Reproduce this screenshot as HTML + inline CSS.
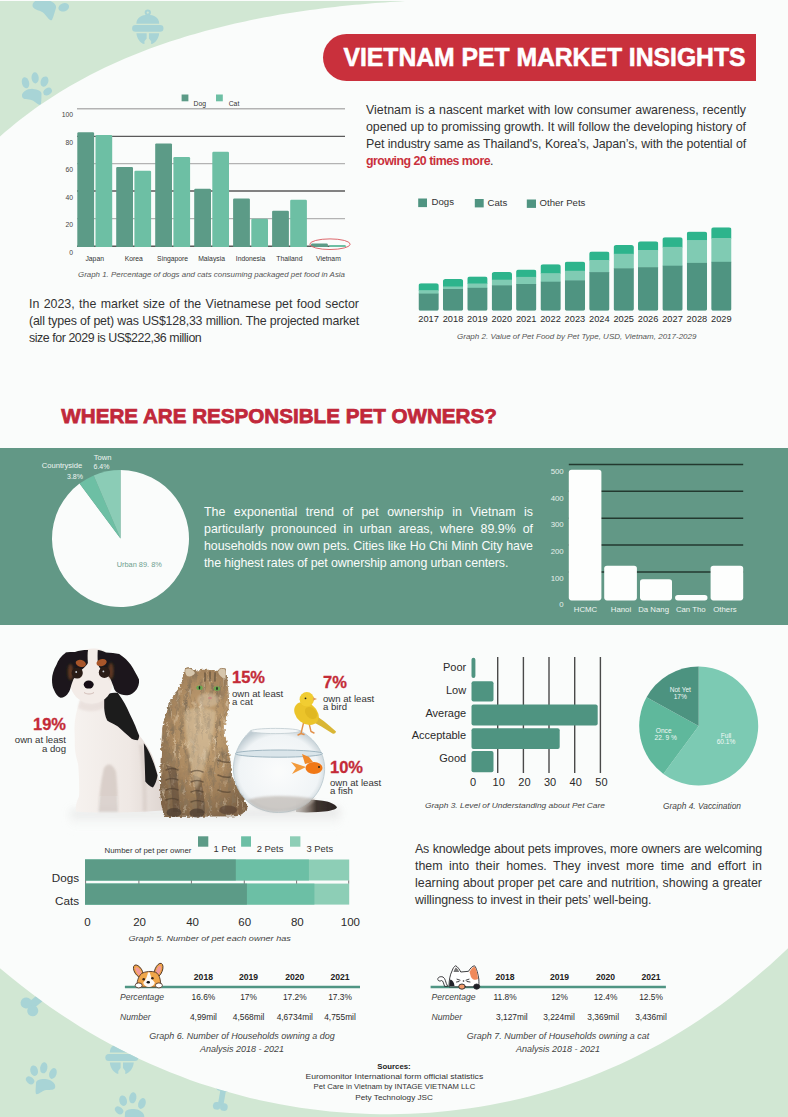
<!DOCTYPE html>
<html><head><meta charset="utf-8">
<style>
html,body{margin:0;padding:0;}
body{width:788px;height:1117px;position:relative;overflow:hidden;background:#fafcfb;font-family:"Liberation Sans",sans-serif;color:#333;}
.a{position:absolute;white-space:nowrap;}
svg.bg{position:absolute;left:0;top:0;}
.p{position:absolute;font-size:12.4px;line-height:17px;color:#3a3a3a;}
.p div{text-align:justify;text-align-last:justify;height:17px;white-space:nowrap;}
</style></head><body>
<svg class="bg" width="788" height="1117" viewBox="0 0 788 1117">
<defs>
<g id="paw">
  <ellipse cx="-8" cy="-6" rx="3.6" ry="5.6" transform="rotate(-10 -8 -6)"/>
  <ellipse cx="2" cy="-10" rx="3.6" ry="5.6"/>
  <ellipse cx="11" cy="-5.5" rx="3.8" ry="5.3" transform="rotate(25 11 -5.5)"/>
  <ellipse cx="13.3" cy="4.7" rx="3.4" ry="4.6" transform="rotate(60 13.3 4.7)"/>
  <path d="M-12.6,7.8 C-13.5,3 -6,0 -1.2,0.8 C3.5,1.5 7.5,3.5 7,6.5 C6.5,9.5 6.5,13 5.5,16.5 C4,19 0.5,14 -3,12 C-7,10.5 -12,11 -12.6,7.8Z"/>
 </g>
<g id="bell">
  <path fill-rule="evenodd" d="M0,-18.5 a3.3,3.3 0 1 1 0,6.6 a3.3,3.3 0 1 1 0,-6.6Z M0,-16.4 a1.2,1.2 0 1 0 0,2.4 a1.2,1.2 0 1 0 0,-2.4Z"/>
  <path d="M-12,-3.5 C-12,-10 -6.5,-13 0,-13 C6.5,-13 12,-10 12,-3.5Z"/>
  <rect x="-16.5" y="-2" width="33" height="7" rx="3.5"/>
  <path d="M-12,6.5 L-1.2,6.5 L-1.2,12 L-3.5,15 L-3.5,18 C-8,17 -11.5,12 -12,6.5Z"/>
  <path d="M12,6.5 L1.2,6.5 L1.2,12 L3.5,15 L3.5,18 C8,17 11.5,12 12,6.5Z"/>
 </g>
<g id="bone">
  <rect x="-11" y="-3.5" width="22" height="7"/>
  <circle cx="-12" cy="-4.5" r="4.8"/><circle cx="-12" cy="4.5" r="4.8"/>
  <circle cx="12" cy="-4.5" r="4.8"/><circle cx="12" cy="4.5" r="4.8"/>
 </g>
<clipPath id="cpTop"><path d="M-10.0,145.7 L-5.0,141.0 L0.0,136.5 L5.0,132.1 L10.0,127.9 L15.0,123.8 L20.0,119.8 L25.0,116.0 L30.0,112.2 L35.0,108.6 L40.0,105.1 L45.0,101.7 L50.0,98.4 L55.0,95.2 L60.0,92.0 L65.0,89.0 L70.0,86.1 L75.0,83.2 L80.0,80.4 L85.0,77.7 L90.0,75.1 L95.0,72.5 L100.0,70.0 L105.0,67.6 L110.0,65.3 L115.0,63.0 L120.0,60.8 L125.0,58.6 L130.0,56.5 L135.0,54.5 L140.0,52.5 L145.0,50.5 L150.0,48.6 L155.0,46.8 L160.0,45.0 L165.0,43.3 L170.0,41.6 L175.0,40.0 L180.0,38.4 L185.0,36.8 L190.0,35.3 L195.0,33.9 L200.0,32.4 L205.0,31.1 L210.0,29.7 L215.0,28.4 L220.0,27.2 L225.0,25.9 L230.0,24.7 L235.0,23.6 L240.0,22.5 L245.0,21.4 L250.0,20.3 L255.0,19.3 L260.0,18.3 L265.0,17.3 L270.0,16.4 L275.0,15.5 L280.0,14.6 L285.0,13.8 L290.0,13.0 L295.0,12.2 L300.0,11.5 L305.0,10.7 L310.0,10.0 L315.0,9.4 L320.0,8.7 L325.0,8.1 L330.0,7.5 L335.0,6.9 L340.0,6.3 L345.0,5.8 L350.0,5.3 L355.0,4.8 L360.0,4.4 L365.0,3.9 L370.0,3.5 L375.0,3.1 L380.0,2.7 L385.0,2.4 L390.0,2.0 L395.0,1.7 L400.0,1.4 L405.0,1.1 L410.0,0.9 L410.0,-10 L-10,-10Z"/></clipPath>
<clipPath id="cpBot"><path d="M-10.0,959.5 L0.0,968.2 L10.0,976.6 L20.0,984.6 L30.0,992.3 L40.0,999.8 L50.0,1006.9 L60.0,1013.8 L70.0,1020.3 L80.0,1026.7 L90.0,1032.7 L100.0,1038.5 L110.0,1044.0 L120.0,1049.3 L130.0,1054.3 L140.0,1059.2 L150.0,1063.7 L160.0,1068.1 L170.0,1072.2 L180.0,1076.1 L190.0,1079.9 L200.0,1083.4 L210.0,1086.6 L220.0,1089.7 L230.0,1092.6 L240.0,1095.3 L250.0,1097.9 L260.0,1100.2 L270.0,1102.3 L280.0,1104.3 L290.0,1106.1 L300.0,1107.7 L310.0,1109.1 L320.0,1110.3 L330.0,1111.4 L340.0,1112.3 L350.0,1113.0 L360.0,1113.6 L370.0,1114.0 L380.0,1114.2 L390.0,1114.2 L400.0,1114.1 L410.0,1113.8 L420.0,1113.3 L430.0,1112.7 L440.0,1111.8 L450.0,1110.8 L460.0,1109.6 L470.0,1108.3 L480.0,1106.7 L490.0,1105.0 L500.0,1103.1 L510.0,1101.0 L520.0,1098.7 L530.0,1096.2 L540.0,1093.5 L550.0,1090.6 L560.0,1087.4 L570.0,1084.1 L580.0,1080.6 L590.0,1076.8 L600.0,1072.8 L610.0,1068.6 L620.0,1064.2 L630.0,1059.5 L640.0,1054.5 L650.0,1049.3 L660.0,1043.9 L670.0,1038.2 L680.0,1032.2 L690.0,1025.9 L700.0,1019.4 L710.0,1012.5 L720.0,1005.4 L730.0,997.9 L740.0,990.1 L750.0,982.1 L760.0,973.6 L770.0,964.9 L780.0,955.8 L790.0,946.3 L800,1130 L-10,1130Z"/></clipPath>
</defs>
<rect x="0" y="0" width="788" height="1117" fill="#fafcfb"/>
<path fill="#d1e7d3" d="M-10.0,145.7 L-5.0,141.0 L0.0,136.5 L5.0,132.1 L10.0,127.9 L15.0,123.8 L20.0,119.8 L25.0,116.0 L30.0,112.2 L35.0,108.6 L40.0,105.1 L45.0,101.7 L50.0,98.4 L55.0,95.2 L60.0,92.0 L65.0,89.0 L70.0,86.1 L75.0,83.2 L80.0,80.4 L85.0,77.7 L90.0,75.1 L95.0,72.5 L100.0,70.0 L105.0,67.6 L110.0,65.3 L115.0,63.0 L120.0,60.8 L125.0,58.6 L130.0,56.5 L135.0,54.5 L140.0,52.5 L145.0,50.5 L150.0,48.6 L155.0,46.8 L160.0,45.0 L165.0,43.3 L170.0,41.6 L175.0,40.0 L180.0,38.4 L185.0,36.8 L190.0,35.3 L195.0,33.9 L200.0,32.4 L205.0,31.1 L210.0,29.7 L215.0,28.4 L220.0,27.2 L225.0,25.9 L230.0,24.7 L235.0,23.6 L240.0,22.5 L245.0,21.4 L250.0,20.3 L255.0,19.3 L260.0,18.3 L265.0,17.3 L270.0,16.4 L275.0,15.5 L280.0,14.6 L285.0,13.8 L290.0,13.0 L295.0,12.2 L300.0,11.5 L305.0,10.7 L310.0,10.0 L315.0,9.4 L320.0,8.7 L325.0,8.1 L330.0,7.5 L335.0,6.9 L340.0,6.3 L345.0,5.8 L350.0,5.3 L355.0,4.8 L360.0,4.4 L365.0,3.9 L370.0,3.5 L375.0,3.1 L380.0,2.7 L385.0,2.4 L390.0,2.0 L395.0,1.7 L400.0,1.4 L405.0,1.1 L410.0,0.9 L410.0,-10 L-10,-10Z"/>
<g fill="#a8d4d6" clip-path="url(#cpTop)">
 <use href="#paw" transform="translate(49,-1) rotate(10) scale(1.2)"/>
 <use href="#bell" transform="translate(147.8,27) scale(0.95)"/>
 <use href="#paw" transform="translate(34,88) rotate(-5)"/>
</g>
<path fill="#d1e7d3" d="M-10.0,959.5 L0.0,968.2 L10.0,976.6 L20.0,984.6 L30.0,992.3 L40.0,999.8 L50.0,1006.9 L60.0,1013.8 L70.0,1020.3 L80.0,1026.7 L90.0,1032.7 L100.0,1038.5 L110.0,1044.0 L120.0,1049.3 L130.0,1054.3 L140.0,1059.2 L150.0,1063.7 L160.0,1068.1 L170.0,1072.2 L180.0,1076.1 L190.0,1079.9 L200.0,1083.4 L210.0,1086.6 L220.0,1089.7 L230.0,1092.6 L240.0,1095.3 L250.0,1097.9 L260.0,1100.2 L270.0,1102.3 L280.0,1104.3 L290.0,1106.1 L300.0,1107.7 L310.0,1109.1 L320.0,1110.3 L330.0,1111.4 L340.0,1112.3 L350.0,1113.0 L360.0,1113.6 L370.0,1114.0 L380.0,1114.2 L390.0,1114.2 L400.0,1114.1 L410.0,1113.8 L420.0,1113.3 L430.0,1112.7 L440.0,1111.8 L450.0,1110.8 L460.0,1109.6 L470.0,1108.3 L480.0,1106.7 L490.0,1105.0 L500.0,1103.1 L510.0,1101.0 L520.0,1098.7 L530.0,1096.2 L540.0,1093.5 L550.0,1090.6 L560.0,1087.4 L570.0,1084.1 L580.0,1080.6 L590.0,1076.8 L600.0,1072.8 L610.0,1068.6 L620.0,1064.2 L630.0,1059.5 L640.0,1054.5 L650.0,1049.3 L660.0,1043.9 L670.0,1038.2 L680.0,1032.2 L690.0,1025.9 L700.0,1019.4 L710.0,1012.5 L720.0,1005.4 L730.0,997.9 L740.0,990.1 L750.0,982.1 L760.0,973.6 L770.0,964.9 L780.0,955.8 L790.0,946.3 L800,1130 L-10,1130Z"/>
<g fill="#a8d4d6" clip-path="url(#cpBot)">
 <use href="#bone" transform="translate(40,998) rotate(-40) scale(1.15)"/>
 <use href="#bell" transform="translate(121.8,1056)"/>
 <use href="#paw" transform="translate(44,1078) scale(-1,1) rotate(-10)"/>
 <use href="#paw" transform="translate(133,1108) scale(-1,1) rotate(-10)"/>
 <use href="#bone" transform="translate(222,1097) rotate(-80) scale(0.8)"/>
</g>
<rect x="0" y="0" width="788" height="1" fill="#fafcfb"/>
<path fill="#c9303c" d="M346.5,34 L756,34 L756,81 L346.5,81 A23.5,23.5 0 0 1 346.5,34Z"/>
</svg>

<svg class="bg" width="788" height="1117" viewBox="0 0 788 1117" style="font-family:'Liberation Sans',sans-serif">
<line x1="77" y1="108.8" x2="345" y2="108.8" stroke="#b3b3b3" stroke-width="1.4"/>
<line x1="77" y1="136.4" x2="345" y2="136.4" stroke="#5a5a5a" stroke-width="1.4"/>
<line x1="77" y1="163.6" x2="345" y2="163.6" stroke="#b3b3b3" stroke-width="1.4"/>
<line x1="77" y1="191.0" x2="345" y2="191.0" stroke="#5a5a5a" stroke-width="1.4"/>
<line x1="77" y1="218.6" x2="345" y2="218.6" stroke="#b3b3b3" stroke-width="1.4"/>
<line x1="77" y1="246.3" x2="345" y2="246.3" stroke="#5a5a5a" stroke-width="1.4"/>
<text x="73" y="117.3" text-anchor="end" font-size="6.8" fill="#444">100</text>
<text x="73" y="144.9" text-anchor="end" font-size="6.8" fill="#444">80</text>
<text x="73" y="172.1" text-anchor="end" font-size="6.8" fill="#444">60</text>
<text x="73" y="199.5" text-anchor="end" font-size="6.8" fill="#444">40</text>
<text x="73" y="227.1" text-anchor="end" font-size="6.8" fill="#444">20</text>
<text x="73" y="254.8" text-anchor="end" font-size="6.8" fill="#444">0</text>
<path fill="#5c9b87" d="M77.3,247 V133.4 q0,-1.2 1.2,-1.2 h14.4 q1.2,0 1.2,1.2 V247Z"/>
<path fill="#6dbfa4" d="M95.5,247 V136.2 q0,-1.2 1.2,-1.2 h14.3 q1.2,0 1.2,1.2 V247Z"/>
<text x="94.7" y="260.6" text-anchor="middle" font-size="6.8" fill="#333">Japan</text>
<path fill="#5c9b87" d="M116.2,247 V168.1 q0,-1.2 1.2,-1.2 h14.4 q1.2,0 1.2,1.2 V247Z"/>
<path fill="#6dbfa4" d="M134.4,247 V171.9 q0,-1.2 1.2,-1.2 h14.3 q1.2,0 1.2,1.2 V247Z"/>
<text x="133.7" y="260.6" text-anchor="middle" font-size="6.8" fill="#333">Korea</text>
<path fill="#5c9b87" d="M155.2,247 V144.6 q0,-1.2 1.2,-1.2 h14.4 q1.2,0 1.2,1.2 V247Z"/>
<path fill="#6dbfa4" d="M173.4,247 V158.2 q0,-1.2 1.2,-1.2 h14.3 q1.2,0 1.2,1.2 V247Z"/>
<text x="172.6" y="260.6" text-anchor="middle" font-size="6.8" fill="#333">Singapore</text>
<path fill="#5c9b87" d="M194.2,247 V190.0 q0,-1.2 1.2,-1.2 h14.4 q1.2,0 1.2,1.2 V247Z"/>
<path fill="#6dbfa4" d="M212.3,247 V152.9 q0,-1.2 1.2,-1.2 h14.3 q1.2,0 1.2,1.2 V247Z"/>
<text x="211.6" y="260.6" text-anchor="middle" font-size="6.8" fill="#333">Malaysia</text>
<path fill="#5c9b87" d="M233.1,247 V199.6 q0,-1.2 1.2,-1.2 h14.4 q1.2,0 1.2,1.2 V247Z"/>
<path fill="#6dbfa4" d="M251.3,247 V219.9 q0,-1.2 1.2,-1.2 h14.3 q1.2,0 1.2,1.2 V247Z"/>
<text x="250.5" y="260.6" text-anchor="middle" font-size="6.8" fill="#333">Indonesia</text>
<path fill="#5c9b87" d="M272.1,247 V211.9 q0,-1.2 1.2,-1.2 h14.4 q1.2,0 1.2,1.2 V247Z"/>
<path fill="#6dbfa4" d="M290.2,247 V200.9 q0,-1.2 1.2,-1.2 h14.3 q1.2,0 1.2,1.2 V247Z"/>
<text x="289.4" y="260.6" text-anchor="middle" font-size="6.8" fill="#333">Thailand</text>
<path fill="#5c9b87" d="M311.0,247 V244.6 q0,-1.2 1.2,-1.2 h14.4 q1.2,0 1.2,1.2 V247Z"/>
<path fill="#6dbfa4" d="M329.2,247 V246.2 q0,-1.2 1.2,-1.2 h14.3 q1.2,0 1.2,1.2 V247Z"/>
<text x="328.4" y="260.6" text-anchor="middle" font-size="6.8" fill="#333">Vietnam</text>
<rect x="181.6" y="94.5" width="6.8" height="6.8" fill="#5c9b87"/>
<text x="193.6" y="105.5" font-size="6.8" fill="#333">Dog</text>
<rect x="216" y="94.5" width="6.8" height="6.8" fill="#6dbfa4"/>
<text x="228.7" y="105.5" font-size="6.8" fill="#333">Cat</text>
<ellipse cx="330" cy="244.2" rx="20.2" ry="5.3" fill="none" stroke="#d9575c" stroke-width="0.9"/>
<text x="78" y="276.8" font-size="7.4" font-style="italic" fill="#555" textLength="267" lengthAdjust="spacingAndGlyphs">Graph 1. Percentage of dogs and cats consuming packaged pet food in Asia</text>
<defs>
<clipPath id="b2_0"><rect x="418.5" y="283.2" width="20.3" height="27.6" rx="2.6"/></clipPath>
<clipPath id="b2_1"><rect x="442.9" y="279.0" width="20.3" height="31.8" rx="2.6"/></clipPath>
<clipPath id="b2_2"><rect x="467.3" y="276.4" width="20.3" height="34.4" rx="2.6"/></clipPath>
<clipPath id="b2_3"><rect x="491.7" y="272.0" width="20.3" height="38.8" rx="2.6"/></clipPath>
<clipPath id="b2_4"><rect x="516.1" y="269.5" width="20.3" height="41.3" rx="2.6"/></clipPath>
<clipPath id="b2_5"><rect x="540.5" y="264.2" width="20.3" height="46.6" rx="2.6"/></clipPath>
<clipPath id="b2_6"><rect x="564.8" y="261.6" width="20.3" height="49.2" rx="2.6"/></clipPath>
<clipPath id="b2_7"><rect x="589.2" y="251.4" width="20.3" height="59.4" rx="2.6"/></clipPath>
<clipPath id="b2_8"><rect x="613.6" y="245.0" width="20.3" height="65.8" rx="2.6"/></clipPath>
<clipPath id="b2_9"><rect x="638.0" y="241.3" width="20.3" height="69.5" rx="2.6"/></clipPath>
<clipPath id="b2_10"><rect x="662.4" y="237.2" width="20.3" height="73.6" rx="2.6"/></clipPath>
<clipPath id="b2_11"><rect x="686.8" y="231.6" width="20.3" height="79.2" rx="2.6"/></clipPath>
<clipPath id="b2_12"><rect x="711.2" y="227.3" width="20.3" height="83.5" rx="2.6"/></clipPath>
</defs>
<g clip-path="url(#b2_0)"><rect x="418.5" y="283.2" width="20.3" height="7.6" fill="#2db48c"/><rect x="418.5" y="290.3" width="20.3" height="3.8" fill="#80cbb3"/><rect x="418.5" y="293.6" width="20.3" height="17.2" fill="#4f9481"/></g>
<text x="418.3" y="322" font-size="9.8" fill="#2a2a2a" textLength="20.6" lengthAdjust="spacingAndGlyphs">2017</text>
<g clip-path="url(#b2_1)"><rect x="442.9" y="279.0" width="20.3" height="8.0" fill="#2db48c"/><rect x="442.9" y="286.5" width="20.3" height="3.0" fill="#80cbb3"/><rect x="442.9" y="289.0" width="20.3" height="21.8" fill="#4f9481"/></g>
<text x="442.7" y="322" font-size="9.8" fill="#2a2a2a" textLength="20.6" lengthAdjust="spacingAndGlyphs">2018</text>
<g clip-path="url(#b2_2)"><rect x="467.3" y="276.4" width="20.3" height="7.6" fill="#2db48c"/><rect x="467.3" y="283.5" width="20.3" height="4.8" fill="#80cbb3"/><rect x="467.3" y="287.8" width="20.3" height="23.0" fill="#4f9481"/></g>
<text x="467.1" y="322" font-size="9.8" fill="#2a2a2a" textLength="20.6" lengthAdjust="spacingAndGlyphs">2019</text>
<g clip-path="url(#b2_3)"><rect x="491.7" y="272.0" width="20.3" height="8.2" fill="#2db48c"/><rect x="491.7" y="279.7" width="20.3" height="6.1" fill="#80cbb3"/><rect x="491.7" y="285.3" width="20.3" height="25.5" fill="#4f9481"/></g>
<text x="491.5" y="322" font-size="9.8" fill="#2a2a2a" textLength="20.6" lengthAdjust="spacingAndGlyphs">2020</text>
<g clip-path="url(#b2_4)"><rect x="516.1" y="269.5" width="20.3" height="7.9" fill="#2db48c"/><rect x="516.1" y="276.9" width="20.3" height="7.6" fill="#80cbb3"/><rect x="516.1" y="284.0" width="20.3" height="26.8" fill="#4f9481"/></g>
<text x="515.9" y="322" font-size="9.8" fill="#2a2a2a" textLength="20.6" lengthAdjust="spacingAndGlyphs">2021</text>
<g clip-path="url(#b2_5)"><rect x="540.5" y="264.2" width="20.3" height="9.6" fill="#2db48c"/><rect x="540.5" y="273.3" width="20.3" height="8.9" fill="#80cbb3"/><rect x="540.5" y="281.7" width="20.3" height="29.1" fill="#4f9481"/></g>
<text x="540.2" y="322" font-size="9.8" fill="#2a2a2a" textLength="20.6" lengthAdjust="spacingAndGlyphs">2022</text>
<g clip-path="url(#b2_6)"><rect x="564.8" y="261.6" width="20.3" height="9.7" fill="#2db48c"/><rect x="564.8" y="270.8" width="20.3" height="10.1" fill="#80cbb3"/><rect x="564.8" y="280.4" width="20.3" height="30.4" fill="#4f9481"/></g>
<text x="564.6" y="322" font-size="9.8" fill="#2a2a2a" textLength="20.6" lengthAdjust="spacingAndGlyphs">2023</text>
<g clip-path="url(#b2_7)"><rect x="589.2" y="251.4" width="20.3" height="9.1" fill="#2db48c"/><rect x="589.2" y="260.0" width="20.3" height="12.6" fill="#80cbb3"/><rect x="589.2" y="272.1" width="20.3" height="38.7" fill="#4f9481"/></g>
<text x="589.0" y="322" font-size="9.8" fill="#2a2a2a" textLength="20.6" lengthAdjust="spacingAndGlyphs">2024</text>
<g clip-path="url(#b2_8)"><rect x="613.6" y="245.0" width="20.3" height="9.3" fill="#2db48c"/><rect x="613.6" y="253.8" width="20.3" height="15.0" fill="#80cbb3"/><rect x="613.6" y="268.3" width="20.3" height="42.5" fill="#4f9481"/></g>
<text x="613.4" y="322" font-size="9.8" fill="#2a2a2a" textLength="20.6" lengthAdjust="spacingAndGlyphs">2025</text>
<g clip-path="url(#b2_9)"><rect x="638.0" y="241.3" width="20.3" height="9.2" fill="#2db48c"/><rect x="638.0" y="250.0" width="20.3" height="17.7" fill="#80cbb3"/><rect x="638.0" y="267.2" width="20.3" height="43.6" fill="#4f9481"/></g>
<text x="637.8" y="322" font-size="9.8" fill="#2a2a2a" textLength="20.6" lengthAdjust="spacingAndGlyphs">2026</text>
<g clip-path="url(#b2_10)"><rect x="662.4" y="237.2" width="20.3" height="10.2" fill="#2db48c"/><rect x="662.4" y="246.9" width="20.3" height="19.3" fill="#80cbb3"/><rect x="662.4" y="265.7" width="20.3" height="45.1" fill="#4f9481"/></g>
<text x="662.2" y="322" font-size="9.8" fill="#2a2a2a" textLength="20.6" lengthAdjust="spacingAndGlyphs">2027</text>
<g clip-path="url(#b2_11)"><rect x="686.8" y="231.6" width="20.3" height="9.1" fill="#2db48c"/><rect x="686.8" y="240.2" width="20.3" height="23.2" fill="#80cbb3"/><rect x="686.8" y="262.9" width="20.3" height="47.9" fill="#4f9481"/></g>
<text x="686.6" y="322" font-size="9.8" fill="#2a2a2a" textLength="20.6" lengthAdjust="spacingAndGlyphs">2028</text>
<g clip-path="url(#b2_12)"><rect x="711.2" y="227.3" width="20.3" height="11.2" fill="#2db48c"/><rect x="711.2" y="238.0" width="20.3" height="24.3" fill="#80cbb3"/><rect x="711.2" y="261.8" width="20.3" height="49.0" fill="#4f9481"/></g>
<text x="711.0" y="322" font-size="9.8" fill="#2a2a2a" textLength="20.6" lengthAdjust="spacingAndGlyphs">2029</text>
<rect x="418.2" y="198.5" width="8.8" height="8.6" fill="#4f9481"/><text x="431.6" y="205" font-size="9.6" fill="#333">Dogs</text>
<rect x="474.8" y="199" width="8.9" height="8.4" fill="#4f9481"/><text x="487.5" y="205.5" font-size="9.6" fill="#333">Cats</text>
<rect x="526.8" y="199.5" width="9.2" height="8.4" fill="#4f9481"/><text x="539.5" y="206.3" font-size="9.6" fill="#333">Other Pets</text>
<text x="457" y="338.7" font-size="7.6" font-style="italic" fill="#555" textLength="239.5" lengthAdjust="spacingAndGlyphs">Graph 2. Value of Pet Food by Pet Type, USD, Vietnam, 2017-2029</text>
<rect x="0" y="448" width="788" height="177" fill="#629886"/>
<path fill="#fafcfb" d="M120.50,538.50 L120.50,470.00 A68.5,68.5 0 1 1 79.56,483.58 Z"/>
<path fill="#6dbfa4" d="M120.50,538.50 L79.56,483.58 A68.5,68.5 0 0 1 93.73,475.45 Z"/>
<path fill="#8bccb6" d="M120.50,538.50 L93.73,475.45 A68.5,68.5 0 0 1 120.50,470.00 Z"/>
<text x="102.5" y="460.2" text-anchor="middle" font-size="7.6" fill="#eef5f1">Town</text>
<text x="101.5" y="469.2" text-anchor="middle" font-size="7" fill="#eef5f1">6.4%</text>
<text x="62" y="467.8" text-anchor="middle" font-size="7.6" fill="#eef5f1">Countryside</text>
<text x="75" y="479.2" text-anchor="middle" font-size="7" fill="#eef5f1">3.8%</text>
<text x="139.3" y="566.8" text-anchor="middle" font-size="7.4" fill="#6f9f8f">Urban 89. 8%</text>
<line x1="568.8" y1="464.4" x2="743.2" y2="464.4" stroke="#23392f" stroke-width="1.5"/>
<line x1="568.8" y1="491.3" x2="743.2" y2="491.3" stroke="#23392f" stroke-width="1.5"/>
<line x1="568.8" y1="518.2" x2="743.2" y2="518.2" stroke="#23392f" stroke-width="1.5"/>
<line x1="568.8" y1="545.1" x2="743.2" y2="545.1" stroke="#23392f" stroke-width="1.5"/>
<line x1="568.8" y1="571.9" x2="743.2" y2="571.9" stroke="#23392f" stroke-width="1.5"/>
<rect x="568.8" y="469.8" width="32.6" height="130.6" rx="2.8" fill="#fdfefd"/>
<rect x="604.2" y="565.8" width="32.7" height="34.6" rx="2.8" fill="#fdfefd"/>
<rect x="640.0" y="579.2" width="32.0" height="21.2" rx="2.8" fill="#fdfefd"/>
<rect x="675.1" y="595.1" width="32.4" height="5.3" rx="2.8" fill="#fdfefd"/>
<rect x="710.6" y="565.8" width="32.6" height="34.6" rx="2.8" fill="#fdfefd"/>
<text x="563.7" y="473.7" text-anchor="end" font-size="7.8" fill="#e6efea">500</text>
<text x="563.7" y="500.8" text-anchor="end" font-size="7.8" fill="#e6efea">400</text>
<text x="563.7" y="527.4" text-anchor="end" font-size="7.8" fill="#e6efea">300</text>
<text x="563.7" y="554.0" text-anchor="end" font-size="7.8" fill="#e6efea">200</text>
<text x="563.7" y="580.7" text-anchor="end" font-size="7.8" fill="#e6efea">100</text>
<text x="563.7" y="607.2" text-anchor="end" font-size="7.8" fill="#e6efea">0</text>
<text x="585.5" y="612.2" text-anchor="middle" font-size="7.8" fill="#eef5f1">HCMC</text>
<text x="621.0" y="612.2" text-anchor="middle" font-size="7.8" fill="#eef5f1">Hanoi</text>
<text x="653.6" y="612.2" text-anchor="middle" font-size="7.8" fill="#eef5f1">Da Nang</text>
<text x="690.8" y="612.2" text-anchor="middle" font-size="7.8" fill="#eef5f1">Can Tho</text>
<text x="725.0" y="612.2" text-anchor="middle" font-size="7.8" fill="#eef5f1">Others</text>
<text x="61.3" y="422.8" font-size="20.6" font-weight="bold" fill="#c1283a" stroke="#c1283a" stroke-width="0.75" textLength="435.5" lengthAdjust="spacingAndGlyphs">WHERE ARE RESPONSIBLE PET OWNERS?</text>
<defs>
<filter id="soft" x="-10%" y="-10%" width="120%" height="120%"><feGaussianBlur stdDeviation="0.6"/></filter>
<filter id="fluff" x="-10%" y="-10%" width="120%" height="120%">
 <feTurbulence type="fractalNoise" baseFrequency="0.35" numOctaves="2" seed="5" result="t"/>
 <feDisplacementMap in="SourceGraphic" in2="t" scale="4" xChannelSelector="R" yChannelSelector="G" result="d"/>
 <feGaussianBlur in="d" stdDeviation="0.5"/>
</filter>
<filter id="soft1" x="-20%" y="-20%" width="140%" height="140%"><feGaussianBlur stdDeviation="1.2"/></filter>
<filter id="soft2" x="-20%" y="-100%" width="140%" height="300%"><feGaussianBlur stdDeviation="4"/></filter>
<filter id="fur" x="0" y="0" width="100%" height="100%">
 <feTurbulence type="fractalNoise" baseFrequency="0.25 0.06" numOctaves="3" seed="7" result="n"/>
 <feColorMatrix in="n" type="matrix" values="0 0 0 0 0.24  0 0 0 0 0.17  0 0 0 0 0.1  0 0 0 -2.6 1.45" result="m"/>
 <feComposite in="m" in2="SourceGraphic" operator="in"/>
</filter>
<filter id="furl" x="0" y="0" width="100%" height="100%">
 <feTurbulence type="fractalNoise" baseFrequency="0.3 0.08" numOctaves="2" seed="11" result="n"/>
 <feColorMatrix in="n" type="matrix" values="0 0 0 0 0.88  0 0 0 0 0.76  0 0 0 0 0.58  0 0 0 2.6 -1.55" result="m"/>
 <feComposite in="m" in2="SourceGraphic" operator="in"/>
</filter>
<radialGradient id="catg" cx="0.5" cy="0.42" r="0.62">
 <stop offset="0" stop-color="#caa97c"/><stop offset="0.55" stop-color="#ad8b62"/><stop offset="1" stop-color="#7f6447"/>
</radialGradient>
<radialGradient id="bowlg" cx="0.5" cy="0.5" r="0.55">
 <stop offset="0" stop-color="#fbfcfc"/><stop offset="0.8" stop-color="#f0f4f6"/><stop offset="1" stop-color="#bcc9d0"/>
</radialGradient>
<linearGradient id="tailg" x1="0" x2="1"><stop offset="0" stop-color="#8f857e" stop-opacity="0.4"/><stop offset="0.38" stop-color="#6a5d55"/><stop offset="0.5" stop-color="#3e342f"/><stop offset="1" stop-color="#2a2422"/></linearGradient>
<linearGradient id="dogbody" x1="0" x2="1"><stop offset="0" stop-color="#f6f2ef"/><stop offset="0.6" stop-color="#efe8e4"/><stop offset="1" stop-color="#ddd4cf"/></linearGradient>
<linearGradient id="floor" x1="0" x2="0" y1="0" y2="1"><stop offset="0" stop-color="#d9d9d9"/><stop offset="1" stop-color="#fafcfb" stop-opacity="0"/></linearGradient>
</defs>
<path d="M70,810 L340,808 L340,830 L70,830Z" fill="url(#floor)" filter="url(#soft2)" opacity="0.9"/>
<g filter="url(#soft)">
<path fill="url(#dogbody)" d="M80,700 C76,712 74,722 74.5,731 C75,740 74.5,745 75.2,751 C76,758 78,762 78.3,766 C79,776 79.5,788 79,796.6 C77,801 75,806 76,811.8 L98,812.6 C99,805 99,800 99.5,796 L117.5,796 C118,802 117.5,808 117.9,812.6 L142.2,811.8 L143.7,811.8 L166.6,810.3 C166.6,806 166,802 165,799.6 C160,790 158,770 152,755 C147,745 143,740 139,735 C132,722 125,712 118,700 C112,695 106,694 104,694Z"/>
<path fill="#d2c6c0" opacity="0.75" d="M98.5,812 C99,795 101,780 104,768 C108,762 113,764 116,772 C117.5,785 118,800 118,812Z" filter="url(#soft1)"/>
<path fill="#d8cdc8" opacity="0.7" d="M139,745 C142,765 143,790 142.5,811 L147,811 C147,790 146,765 143,745Z" filter="url(#soft1)"/>
<path fill="#e4d8d4" opacity="0.6" d="M80,700 C90,706 100,704 106,696 L112,700 C104,712 90,714 78,708Z" filter="url(#soft1)"/>
<path fill="#1d1a1c" d="M104.2,696 C108,693 114,692 117.9,693 C123,700 127,707 130,714.4 C134,722 137,730 139.2,735.7 C139,738 138.5,739.5 137.7,740.3 C135,740 133,739.5 131.6,738.7 C126,734 122,730 117.9,726.5 C114,724 110,722.5 107.2,720.5 C105,716 104.5,712 104.2,708.3Z"/>
<path fill="#1d1a1c" d="M143.8,743.3 C149,750 154,762 157.5,775.3 C157,780 155,785 152.9,787.5 C150,786 147,784 145.3,781.4 C145,770 144.5,755 143.8,743.3Z"/>
</g>
<g filter="url(#soft)">
<path fill="#f3ece8" d="M75,656 C80,650 88,648.5 95,648.5 C103,649 109,652 112,660 L113,684 C110,698 102,703 92,703.5 C82,703 74,698 71,688 L71,665Z"/>
<path fill="#1b191b" d="M66,652.4 C61,656 58,660 56.5,664.8 C53.5,670 52,675 52,679.6 C52,684 52.5,687 53.8,689.5 C55.5,694 58,697 60.5,697.8 C63,698 65.5,696.5 67.2,694.5 C69,692 70,690 70.5,687.9 C71.5,684 72.5,682 73.5,679 C77,676 80,672 82,669.5 C85,667 87,665 87.9,663 C87.5,658 87.5,653 88,650 C83,650 79,650.5 75,652 C72,652 68,652 64.8,652.4Z"/>
<path fill="#1b191b" d="M97.8,650 C100,650 103,651 106,652.4 C111,652.5 115,653 119.2,654 C124,657 128,661 130.8,664.8 C134,670 137,675 139,679.6 C139.5,684 138,687 136.5,689.5 C134,693 131,695 127.5,695.3 C123,695.5 120,694.5 117.6,692.8 C115,691 114,689 113.4,686.2 C112.5,684 111.5,681 110,678 C107,675 104,672 101,669.5 C99,667 97.8,665 97.8,663 C97.5,658 97.5,653 97.8,650Z"/>
<ellipse cx="70.5" cy="672" rx="2.6" ry="8" fill="#7a4426" opacity="0.7" filter="url(#soft1)"/>
<ellipse cx="111" cy="671" rx="2.6" ry="8" fill="#7a4426" opacity="0.7" filter="url(#soft1)"/>
<ellipse cx="80.8" cy="663.4" rx="5.2" ry="3.4" fill="#a9562a" transform="rotate(15 80.8 663.4)"/>
<ellipse cx="101.6" cy="662.6" rx="5.2" ry="3.4" fill="#a9562a" transform="rotate(-15 101.6 662.6)"/>
<circle cx="77.2" cy="673" r="5.6" fill="#2a1c18"/><circle cx="104.4" cy="672.4" r="5.6" fill="#2a1c18"/>
<circle cx="76.2" cy="672" r="0.9" fill="#cfd6dc"/><circle cx="103.4" cy="671.4" r="0.9" fill="#cfd6dc"/>
<ellipse cx="88.7" cy="684.6" rx="5" ry="4" fill="#121012"/>
<path d="M84,692.5 C87,694.5 91,694.5 94,692.5" stroke="#c8b0aa" stroke-width="0.8" fill="none"/>
</g>
<g filter="url(#fluff)">
<path fill="url(#catg)" d="M185,668.7 C188,666 192,667 195,671 C200,669.5 207,669.5 212,670 C214.5,670 216,670.5 217.5,671 C219.5,668 222.5,667 225,668.5 C227,673 227.6,680 227.6,685.4 C228.6,692 229.2,699 229,705 C228.5,711 227.5,715 226,719 C225,724 224.6,729 224.6,734 C226,740 228,746 229,752.4 C230.5,760 231.5,768 232.2,776.8 C235,782 238.5,787 241.3,792 C243.5,797 246,802 247.4,807.2 C246,812 241,815.5 235,816.3 L165.2,817 C162.5,811 161,805 160.7,799.6 C160.3,792 160,784 160,776.8 C160.3,766 160.8,756 161.4,746.3 C161.6,740 161.9,734 162.2,728 C163.5,722 165,717 166.7,712.8 C167.7,708 168.5,704 169.8,700.7 C172.5,696 176,692 179,688.5 C180.5,685 182,681 183.5,677.8 C184,674 184.5,671 185,668.7Z"/>
<path fill="url(#catg)" filter="url(#fur)" d="M185,668.7 C188,666 192,667 195,671 C200,669.5 207,669.5 212,670 C214.5,670 216,670.5 217.5,671 C219.5,668 222.5,667 225,668.5 C227,673 227.6,680 227.6,685.4 C228.6,692 229.2,699 229,705 C228.5,711 227.5,715 226,719 C225,724 224.6,729 224.6,734 C226,740 228,746 229,752.4 C230.5,760 231.5,768 232.2,776.8 C235,782 238.5,787 241.3,792 C243.5,797 246,802 247.4,807.2 C246,812 241,815.5 235,816.3 L165.2,817 C162.5,811 161,805 160.7,799.6 C160.3,792 160,784 160,776.8 C160.3,766 160.8,756 161.4,746.3 C161.6,740 161.9,734 162.2,728 C163.5,722 165,717 166.7,712.8 C167.7,708 168.5,704 169.8,700.7 C172.5,696 176,692 179,688.5 C180.5,685 182,681 183.5,677.8 C184,674 184.5,671 185,668.7Z"/>
<path fill="url(#catg)" filter="url(#furl)" d="M185,668.7 C188,666 192,667 195,671 C200,669.5 207,669.5 212,670 C214.5,670 216,670.5 217.5,671 C219.5,668 222.5,667 225,668.5 C227,673 227.6,680 227.6,685.4 C228.6,692 229.2,699 229,705 C228.5,711 227.5,715 226,719 C225,724 224.6,729 224.6,734 C226,740 228,746 229,752.4 C230.5,760 231.5,768 232.2,776.8 C235,782 238.5,787 241.3,792 C243.5,797 246,802 247.4,807.2 C246,812 241,815.5 235,816.3 L165.2,817 C162.5,811 161,805 160.7,799.6 C160.3,792 160,784 160,776.8 C160.3,766 160.8,756 161.4,746.3 C161.6,740 161.9,734 162.2,728 C163.5,722 165,717 166.7,712.8 C167.7,708 168.5,704 169.8,700.7 C172.5,696 176,692 179,688.5 C180.5,685 182,681 183.5,677.8 C184,674 184.5,671 185,668.7Z" opacity="0.8"/>
</g>
<g filter="url(#soft)">
<path fill="#5a4838" opacity="0.5" d="M166,765 C170,775 172,790 173,812 L180,812 C179,795 178,780 176,768Z"/>
<path fill="#5a4838" opacity="0.5" d="M193,775 C196,790 197,800 197,813 L205,813 C205,800 203,790 201,778Z"/>
<ellipse cx="174" cy="812.5" rx="7.5" ry="4.5" fill="#4e3d30" opacity="0.75"/>
<ellipse cx="197" cy="813" rx="7.5" ry="4.5" fill="#4e3d30" opacity="0.75"/>
<ellipse cx="228" cy="810" rx="9" ry="4.5" fill="#4e3d30" opacity="0.55"/>
<path fill="#d8c4a2" opacity="0.55" d="M184,712 C192,707 206,706 216,712 C213,740 205,770 196,790 C191,770 186,740 184,712Z" filter="url(#soft1)"/>
<ellipse cx="208" cy="700" rx="11" ry="7" fill="#d2bea0" opacity="0.6" filter="url(#soft1)"/>
<g stroke="#4a3a2c" stroke-width="1.6" opacity="0.55" fill="none" stroke-linecap="round">
<path d="M166,770 q6,-3 12,0"/>
<path d="M191,772 q6,-3 12,0"/>
<path d="M166,780 q6,-3 12,0"/>
<path d="M191,782 q6,-3 12,0"/>
<path d="M166,790 q6,-3 12,0"/>
<path d="M191,792 q6,-3 12,0"/>
<path d="M166,800 q6,-3 12,0"/>
<path d="M191,802 q6,-3 12,0"/>
<path d="M218,760 q6,3 12,2"/>
<path d="M218,775 q6,3 12,2"/>
<path d="M218,790 q6,3 12,2"/>
<path d="M205,673 v8 M210,672 v9 M215,673 v8"/>
</g>
<path fill="#d6c6ac" d="M185.5,669 C189,667.5 193,669 195,673 C193,676 190,677 187,676 C185,674 185,671 185.5,669Z"/>
<path fill="#d6c6ac" d="M218,672 C219.5,669 222.5,668 225,669.5 C226,672 226,676 225,678 C222,678 219.5,676 218,672Z"/>
<ellipse cx="199.5" cy="687.7" rx="3.2" ry="2.3" fill="#6aa850"/><ellipse cx="217" cy="688.5" rx="3.2" ry="2.3" fill="#6aa850"/>
<ellipse cx="199.5" cy="687.7" rx="0.8" ry="1.8" fill="#222"/><ellipse cx="217" cy="688.5" rx="0.8" ry="1.8" fill="#222"/>
<ellipse cx="210" cy="698" rx="1.8" ry="1.2" fill="#c98a80"/>
</g>
<path d="M296,800.5 C306,799 318,799.5 327,801.5 C332,803 336.5,805.5 337,807.5 C335,810.5 326,811.5 318,812 C310,812.5 302,812.5 296,812Z" fill="url(#tailg)" filter="url(#soft)"/>
<path fill="url(#bowlg)" opacity="0.93" stroke="#b9c8cf" stroke-width="0.9" d="M251,730.5 C238,742 232.5,758 233.5,772 C235.5,797 255,812.5 278.5,812.5 C302,812.5 322,797 324.5,772 C325.5,758 320,742 300,730.5Z"/>
<path fill="#b5ada6" opacity="0.6" d="M247,800 C262,795 292,795 316,799 C308,809 294,812 278,812 C265,812 254,808 247,800Z" filter="url(#soft1)"/>
<ellipse cx="275.3" cy="731" rx="24.7" ry="2.6" fill="#f4f7f8" stroke="#c5d0d5" stroke-width="0.9"/>
<ellipse cx="279" cy="753.6" rx="43.5" ry="3.6" fill="#dae5ea" stroke="#9fb6c1" stroke-width="1"/>
<g filter="url(#soft)">
<path fill="#d9b636" d="M312,713 C320,718 328,724 336,731.5 C335.5,733.5 334,734 332.5,733.5 C325,729 318,724 309,720Z"/>
<path d="M303.5,723 L301,733.5 M301,733.5 l-3,1.5 M301,733.5 l3,1 M309,723 L311,731.5 l3,1.5" stroke="#e2904a" stroke-width="1.4" fill="none" stroke-linecap="round"/>
<ellipse cx="306.5" cy="713.5" rx="13.5" ry="10" transform="rotate(38 306.5 713.5)" fill="#ebc42a"/>
<ellipse cx="311" cy="713" rx="7" ry="5" transform="rotate(45 311 713)" fill="#d8b020" opacity="0.6"/>
<circle cx="306.8" cy="699.3" r="7.2" fill="#f1cd30"/>
<path fill="#e2a060" d="M313,697.3 L317,699 L313,700.8Z"/>
<circle cx="305.5" cy="698.3" r="0.9" fill="#222"/>
</g>
<g filter="url(#soft)">
<path fill="#f39a3a" d="M306,767 L291,762 L296,768 L292,774Z"/>
<path fill="#f08a2a" d="M305,764 L302,754 L309,757 L313,762Z"/>
<ellipse cx="314" cy="768" rx="8.5" ry="6" fill="#f07818"/>
<circle cx="319" cy="767" r="1" fill="#222"/>
</g>
<text x="66" y="730" text-anchor="end" font-size="16.5" font-weight="bold" fill="#c42b37" stroke="#c42b37" stroke-width="0.3">19%</text>
<text x="66" y="743.2" text-anchor="end" font-size="9.6" fill="#333">own at least</text>
<text x="66" y="751.6" text-anchor="end" font-size="9.6" fill="#333">a dog</text>
<text x="232" y="683.4" text-anchor="start" font-size="16.5" font-weight="bold" fill="#c42b37" stroke="#c42b37" stroke-width="0.3">15%</text>
<text x="232" y="696.6" text-anchor="start" font-size="9.6" fill="#333">own at least</text>
<text x="232" y="705.0" text-anchor="start" font-size="9.6" fill="#333">a cat</text>
<text x="323" y="688.4" text-anchor="start" font-size="16.5" font-weight="bold" fill="#c42b37" stroke="#c42b37" stroke-width="0.3">7%</text>
<text x="323" y="701.6" text-anchor="start" font-size="9.6" fill="#333">own at least</text>
<text x="323" y="710.0" text-anchor="start" font-size="9.6" fill="#333">a bird</text>
<text x="330" y="772.5" text-anchor="start" font-size="16.5" font-weight="bold" fill="#c42b37" stroke="#c42b37" stroke-width="0.3">10%</text>
<text x="330" y="785.7" text-anchor="start" font-size="9.6" fill="#333">own at least</text>
<text x="330" y="794.1" text-anchor="start" font-size="9.6" fill="#333">a fish</text>
<line x1="497.7" y1="657" x2="497.7" y2="773" stroke="#4a4a4a" stroke-width="1.4"/>
<line x1="523.4" y1="657" x2="523.4" y2="773" stroke="#4a4a4a" stroke-width="1.4"/>
<line x1="549.0" y1="657" x2="549.0" y2="773" stroke="#4a4a4a" stroke-width="1.4"/>
<line x1="574.7" y1="657" x2="574.7" y2="773" stroke="#4a4a4a" stroke-width="1.4"/>
<line x1="600.4" y1="657" x2="600.4" y2="773" stroke="#4a4a4a" stroke-width="1.4"/>
<rect x="471.5" y="657.8" width="3.9" height="20.1" rx="2" fill="#4f9481"/>
<rect x="471.5" y="681.3" width="22.0" height="20.3" rx="2" fill="#4f9481"/>
<rect x="471.5" y="704.4" width="126.2" height="21.0" rx="2" fill="#4f9481"/>
<rect x="471.5" y="728.2" width="88.2" height="20.9" rx="2" fill="#4f9481"/>
<rect x="471.5" y="751.0" width="22.0" height="21.3" rx="2" fill="#4f9481"/>
<text x="466.2" y="670.8" text-anchor="end" font-size="11" fill="#2a2a2a">Poor</text>
<text x="466.2" y="693.6" text-anchor="end" font-size="11" fill="#2a2a2a">Low</text>
<text x="466.2" y="716.8" text-anchor="end" font-size="11" fill="#2a2a2a">Average</text>
<text x="466.2" y="739.1" text-anchor="end" font-size="11" fill="#2a2a2a">Acceptable</text>
<text x="466.2" y="761.5" text-anchor="end" font-size="11" fill="#2a2a2a">Good</text>
<text x="473.0" y="786" text-anchor="middle" font-size="11" fill="#2a2a2a">0</text>
<text x="498.7" y="786" text-anchor="middle" font-size="11" fill="#2a2a2a">10</text>
<text x="524.4" y="786" text-anchor="middle" font-size="11" fill="#2a2a2a">20</text>
<text x="550.0" y="786" text-anchor="middle" font-size="11" fill="#2a2a2a">30</text>
<text x="575.7" y="786" text-anchor="middle" font-size="11" fill="#2a2a2a">40</text>
<text x="601.4" y="786" text-anchor="middle" font-size="11" fill="#2a2a2a">50</text>
<text x="425" y="808.2" font-size="7.6" font-style="italic" fill="#444" textLength="180" lengthAdjust="spacingAndGlyphs">Graph 3. Level of Understanding about Pet Care</text>
<path fill="#7ccab3" d="M698.70,726.00 L698.70,666.50 A59.5,59.5 0 1 1 663.39,773.89 Z"/>
<path fill="#5fb89c" d="M698.70,726.00 L663.39,773.89 A59.5,59.5 0 0 1 646.56,697.34 Z"/>
<path fill="#4c9380" d="M698.70,726.00 L646.56,697.34 A59.5,59.5 0 0 1 698.70,666.50 Z"/>
<text x="680.3" y="692.2" text-anchor="middle" font-size="6.6" fill="#f2f8f5">Not Yet</text>
<text x="680.3" y="698.8" text-anchor="middle" font-size="6.6" fill="#f2f8f5">17%</text>
<text x="663.7" y="732.9" text-anchor="middle" font-size="6.6" fill="#f2f8f5">Once</text>
<text x="665.8" y="739.7" text-anchor="middle" font-size="6.6" fill="#f2f8f5">22. 9 %</text>
<text x="726.0" y="737.6" text-anchor="middle" font-size="6.6" fill="#f2f8f5">Full</text>
<text x="726.0" y="744.4" text-anchor="middle" font-size="6.6" fill="#f2f8f5">60.1%</text>
<text x="702" y="808.6" text-anchor="middle" font-size="8.4" font-style="italic" fill="#444">Graph 4. Vaccination</text>
<rect x="85" y="859.5" width="264.2" height="21" fill="#8dceb6"/>
<rect x="85" y="859.5" width="223.9" height="21" fill="#6cbfa5"/>
<rect x="85" y="859.5" width="150.8" height="21" fill="#5c9b87"/>
<rect x="85" y="883.6" width="264.2" height="21" fill="#8dceb6"/>
<rect x="85" y="883.6" width="229.4" height="21" fill="#6cbfa5"/>
<rect x="85" y="883.6" width="161.9" height="21" fill="#5c9b87"/>
<line x1="85.6" y1="880.5" x2="85.6" y2="883.6" stroke="#555" stroke-width="0.8"/>
<line x1="138.9" y1="880.5" x2="138.9" y2="883.6" stroke="#555" stroke-width="0.8"/>
<line x1="191.4" y1="880.5" x2="191.4" y2="883.6" stroke="#555" stroke-width="0.8"/>
<line x1="244.3" y1="880.5" x2="244.3" y2="883.6" stroke="#555" stroke-width="0.8"/>
<line x1="296.6" y1="880.5" x2="296.6" y2="883.6" stroke="#555" stroke-width="0.8"/>
<line x1="348.7" y1="880.5" x2="348.7" y2="883.6" stroke="#555" stroke-width="0.8"/>
<text x="79" y="882" text-anchor="end" font-size="11.7" fill="#2a2a2a">Dogs</text>
<text x="79" y="905.3" text-anchor="end" font-size="11.7" fill="#2a2a2a">Cats</text>
<text x="87.5" y="926.3" text-anchor="middle" font-size="11.5" fill="#2a2a2a">0</text>
<text x="139.6" y="926.3" text-anchor="middle" font-size="11.5" fill="#2a2a2a">20</text>
<text x="192.6" y="926.3" text-anchor="middle" font-size="11.5" fill="#2a2a2a">40</text>
<text x="244.7" y="926.3" text-anchor="middle" font-size="11.5" fill="#2a2a2a">60</text>
<text x="297.3" y="926.3" text-anchor="middle" font-size="11.5" fill="#2a2a2a">80</text>
<text x="350.4" y="926.3" text-anchor="middle" font-size="11.5" fill="#2a2a2a">100</text>
<text x="104.6" y="852.8" font-size="7.4" fill="#333" textLength="86.8" lengthAdjust="spacingAndGlyphs">Number of pet per owner</text>
<rect x="198" y="836.3" width="10.3" height="10.4" fill="#5c9b87"/><text x="213.6" y="852.3" font-size="9.4" fill="#333">1 Pet</text>
<rect x="241.1" y="836.3" width="9.9" height="10.4" fill="#6cbfa5"/><text x="256.8" y="852.3" font-size="9.4" fill="#333">2 Pets</text>
<rect x="290" y="836.3" width="10.4" height="10.4" fill="#8dceb6"/><text x="306.5" y="852.3" font-size="9.4" fill="#333">3 Pets</text>
<text x="128.5" y="941" font-size="7.8" font-style="italic" fill="#444" textLength="162.3" lengthAdjust="spacingAndGlyphs">Graph 5. Number of pet each owner has</text>
<line x1="124.9" y1="987" x2="360.0" y2="987" stroke="#4f9583" stroke-width="2.6"/>
<text x="203.4" y="980.3" text-anchor="middle" font-size="8.6" font-weight="bold" fill="#222">2018</text>
<text x="248.6" y="980.3" text-anchor="middle" font-size="8.6" font-weight="bold" fill="#222">2019</text>
<text x="294.8" y="980.3" text-anchor="middle" font-size="8.6" font-weight="bold" fill="#222">2020</text>
<text x="340.0" y="980.3" text-anchor="middle" font-size="8.6" font-weight="bold" fill="#222">2021</text>
<text x="120.0" y="1000.3" font-size="8.6" font-style="italic" fill="#444">Percentage</text>
<text x="120.0" y="1020.2" font-size="8.6" font-style="italic" fill="#444">Number</text>
<text x="203.4" y="1000.2" text-anchor="middle" font-size="8.4" fill="#2a2a2a">16.6%</text>
<text x="248.6" y="1000.2" text-anchor="middle" font-size="8.4" fill="#2a2a2a">17%</text>
<text x="294.8" y="1000.2" text-anchor="middle" font-size="8.4" fill="#2a2a2a">17.2%</text>
<text x="340.0" y="1000.2" text-anchor="middle" font-size="8.4" fill="#2a2a2a">17.3%</text>
<text x="203.4" y="1020.2" text-anchor="middle" font-size="8.4" fill="#2a2a2a">4,99mil</text>
<text x="248.6" y="1020.2" text-anchor="middle" font-size="8.4" fill="#2a2a2a">4,568mil</text>
<text x="294.8" y="1020.2" text-anchor="middle" font-size="8.4" fill="#2a2a2a">4,6734mil</text>
<text x="340.0" y="1020.2" text-anchor="middle" font-size="8.4" fill="#2a2a2a">4,755mil</text>
<text x="242.0" y="1039" text-anchor="middle" font-size="9" font-style="italic" fill="#444">Graph 6. Number of Households owning a dog</text>
<text x="242.0" y="1052.3" text-anchor="middle" font-size="9" font-style="italic" fill="#444">Analysis 2018 - 2021</text>
<line x1="430.6" y1="987" x2="665.9" y2="987" stroke="#4f9583" stroke-width="2.6"/>
<text x="505.1" y="980.3" text-anchor="middle" font-size="8.6" font-weight="bold" fill="#222">2018</text>
<text x="559.6" y="980.3" text-anchor="middle" font-size="8.6" font-weight="bold" fill="#222">2019</text>
<text x="605.5" y="980.3" text-anchor="middle" font-size="8.6" font-weight="bold" fill="#222">2020</text>
<text x="651.0" y="980.3" text-anchor="middle" font-size="8.6" font-weight="bold" fill="#222">2021</text>
<text x="431.6" y="1000.3" font-size="8.6" font-style="italic" fill="#444">Percentage</text>
<text x="431.6" y="1020.2" font-size="8.6" font-style="italic" fill="#444">Number</text>
<text x="505.1" y="1000.2" text-anchor="middle" font-size="8.4" fill="#2a2a2a">11.8%</text>
<text x="559.6" y="1000.2" text-anchor="middle" font-size="8.4" fill="#2a2a2a">12%</text>
<text x="605.5" y="1000.2" text-anchor="middle" font-size="8.4" fill="#2a2a2a">12.4%</text>
<text x="651.0" y="1000.2" text-anchor="middle" font-size="8.4" fill="#2a2a2a">12.5%</text>
<text x="511.9" y="1020.2" text-anchor="middle" font-size="8.4" fill="#2a2a2a">3,127mil</text>
<text x="559.0" y="1020.2" text-anchor="middle" font-size="8.4" fill="#2a2a2a">3,224mil</text>
<text x="603.2" y="1020.2" text-anchor="middle" font-size="8.4" fill="#2a2a2a">3,369mil</text>
<text x="651.0" y="1020.2" text-anchor="middle" font-size="8.4" fill="#2a2a2a">3,436mil</text>
<text x="558.0" y="1039" text-anchor="middle" font-size="9" font-style="italic" fill="#444">Graph 7. Number of Households owning a cat</text>
<text x="558.0" y="1052.3" text-anchor="middle" font-size="9" font-style="italic" fill="#444">Analysis 2018 - 2021</text>
<text x="394" y="1068.5" text-anchor="middle" font-size="7.8" font-weight="bold" fill="#222">Sources:</text>
<text x="305.5" y="1078.6" font-size="7.8" fill="#333" textLength="177.7" lengthAdjust="spacingAndGlyphs">Euromonitor International form official statistics</text>
<text x="313.5" y="1089.2" font-size="7.8" fill="#333" textLength="161.7" lengthAdjust="spacingAndGlyphs">Pet Care in Vietnam by INTAGE VIETNAM LLC</text>
<text x="355.3" y="1099.6" font-size="7.8" fill="#333" textLength="77.7" lengthAdjust="spacingAndGlyphs">Pety Technology JSC</text>
<g stroke="#4b2f22" stroke-width="0.85" stroke-linejoin="round">
 <ellipse cx="138.3" cy="971.2" rx="3.7" ry="7" transform="rotate(-32 138.3 971.2)" fill="#f0a64a"/>
 <ellipse cx="138.6" cy="971.6" rx="2" ry="4.8" transform="rotate(-32 138.6 971.6)" fill="#f29a9a" stroke="none"/>
 <ellipse cx="158.6" cy="970.2" rx="3.7" ry="7.3" transform="rotate(22 158.6 970.2)" fill="#f0a64a"/>
 <ellipse cx="158.4" cy="970.6" rx="2" ry="5" transform="rotate(22 158.4 970.6)" fill="#f29a9a" stroke="none"/>
 <path fill="#f0a64a" d="M137.2,987 C136.6,982 138,977 141.5,973.5 C145.5,971.2 151.5,970.8 155.8,972.3 C159.5,974.5 161,980 160.6,987Z"/>
 <path fill="#fdfaf6" stroke="none" d="M148,972.5 C147.3,976 146.2,979.5 143.2,982.8 C144,985.5 146,987 149,987 C152,987 154,985.5 154.8,982.8 C152,979.5 150.5,976 149.8,972.5Z"/>
 <circle cx="143.7" cy="979.2" r="1.3" fill="#3a2518" stroke="none"/>
 <circle cx="152.4" cy="978.3" r="1.3" fill="#3a2518" stroke="none"/>
 <ellipse cx="148.3" cy="982.3" rx="1.7" ry="1.2" fill="#111" stroke="none"/>
 <ellipse cx="138.7" cy="985.4" rx="3.5" ry="2.5" fill="#fff"/>
 <ellipse cx="158.9" cy="985.4" rx="3.5" ry="2.5" fill="#fff"/>
</g>
<g stroke="#2a2a2e" stroke-width="0.9" stroke-linejoin="round" stroke-linecap="round">
 <path fill="#fff" d="M447.5,986 C445,982 446,979 443,977 C440,976 437.5,977.5 437.8,979.5 C438,981 440,981.5 441.5,980.5 C443,980.5 443.5,983 444.5,986Z"/>
 <path fill="#fff" d="M449,986.5 C449,980 450,975 452,971 C453,968 454.5,966 455.7,965.8 C457.5,966.5 459.5,969.5 460.8,972 L468.5,971.3 C470.5,968 472.5,966 474.6,965.8 C476.5,968 478,974 478.8,979 C479,982 479,985 478.8,986.5Z"/>
 <path fill="#f08a5a" stroke="none" d="M469.5,972 C471,969 473,967 474.5,966.5 C476.5,969 477.5,974 478,979 C476,980.5 472.5,980 471,977Z"/>
 <path fill="#777" stroke="none" d="M453.5,972 C454.5,969 455.5,967.5 456,967.5 C457.5,968.5 458.5,970.5 459.2,972Z"/>
 <path fill="#22232a" stroke="none" d="M449.3,986 C449.3,983 449.8,980.5 450.5,979.5 C452.5,980 454,982 454.5,986Z"/>
 <path fill="none" d="M457,979.2 L460,980.2 M466,980.2 L469,979.2 M456.5,982 L459,981.5 M467,981.5 L470,982"/>
 <circle cx="463.5" cy="981" r="0.8" fill="#222" stroke="none"/>
 <ellipse cx="462" cy="986.6" rx="3.3" ry="2.6" fill="#f29a6a"/>
 <ellipse cx="476.7" cy="986.6" rx="3" ry="2.6" fill="#1e1f26"/>
</g>
 <text x="343.5" y="66.3" font-size="25.3" font-weight="bold" fill="#fff" stroke="#fff" stroke-width="0.55" textLength="402" lengthAdjust="spacingAndGlyphs">VIETNAM PET MARKET INSIGHTS</text>
</svg>





<div class="p" style="left:366px;top:101.5px;width:380px;color:#333;">
 <div style="letter-spacing:0.000px">Vietnam is a nascent market with low consumer awareness, recently</div>
 <div style="letter-spacing:-0.071px">opened up to promissing growth. It will follow the developing history of</div>
 <div style="letter-spacing:-0.114px">Pet industry same as Thailand's, Korea’s, Japan’s, with the potential of</div>
 <div style="letter-spacing:-0.519px;text-align-last:left"><b style="color:#c9303c">growing 20 times more</b>.</div>
</div>
<div class="p" style="left:29px;top:296px;width:330px;color:#333;">
 <div style="letter-spacing:0.000px">In 2023, the market size of the Vietnamese pet food sector</div>
 <div style="letter-spacing:-0.208px">(all types of pet) was US$128,33 million. The projected market</div>
 <div style="letter-spacing:-0.442px;text-align-last:left">size for 2029 is US$222,36 million</div>
</div>
<div class="p" style="left:204px;top:504px;width:329px;color:#fafcfb;">
 <div style="letter-spacing:0.000px">The exponential trend of pet ownership in Vietnam is</div>
 <div style="letter-spacing:0.000px">particularly pronounced in urban areas, where 89.9% of</div>
 <div style="letter-spacing:-0.029px">households now own pets. Cities like Ho Chi Minh City have</div>
 <div style="letter-spacing:-0.103px;text-align-last:left">the highest rates of pet ownership among urban centers.</div>
</div>
<div class="p" style="left:415px;top:841px;width:347px;color:#333;">
 <div style="letter-spacing:-0.144px">As knowledge about pets improves, more owners are welcoming</div>
 <div style="letter-spacing:0.000px">them into their homes. They invest more time and effort in</div>
 <div style="letter-spacing:0.000px">learning about proper pet care and nutrition, showing a greater</div>
 <div style="letter-spacing:-0.116px;text-align-last:left">willingness to invest in their pets’ well-being.</div>
</div>
</body></html>
